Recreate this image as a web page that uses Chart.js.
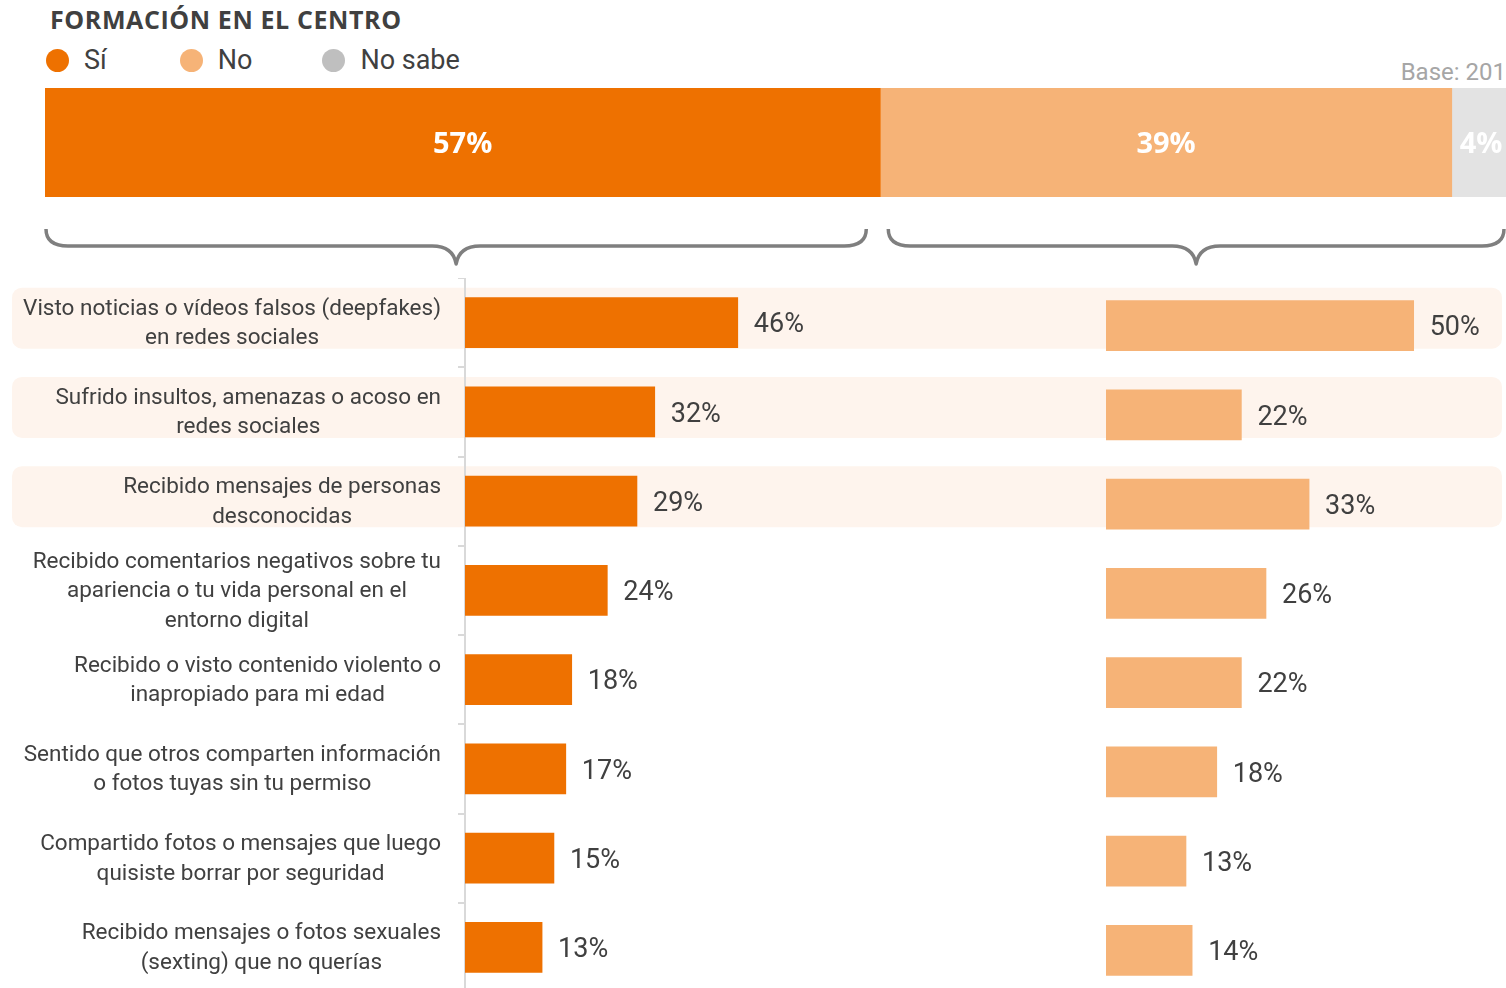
<!DOCTYPE html>
<html>
<head>
<meta charset="utf-8">
<script src="https://cdn.jsdelivr.net/npm/chart.js@4.4.1/dist/chart.umd.min.js"></script>
<style>
  html, body { margin: 0; padding: 0; background: #fff; width: 1506px; height: 988px; overflow: hidden; }
  body { position: relative; font-family: Roboto, sans-serif; color: #404040; }
  canvas { position: absolute; left: 0; }
  #title { position: absolute; left: 50px; top: 4px; font: 700 25px "Open Sans", sans-serif; letter-spacing: 0.6px; color: #404040; line-height: 30px; }
  #legend { position: absolute; left: 46px; top: 43px; font-size: 27px; line-height: 34px; display: flex; }
  #legend .item { display: flex; align-items: center; }
  #legend .dot { width: 23px; height: 23px; border-radius: 50%; margin-right: 15px; }
  #base { position: absolute; right: 0; top: 57px; font-size: 24px; color: #a6a6a6; line-height: 30px; }
</style>
</head>
<body>
<div id="title">FORMACIÓN EN EL CENTRO</div>
<div id="legend"></div>
<div id="base">Base: 201</div>
<canvas id="topChart" width="1506" height="270" style="top:0"></canvas>
<canvas id="siChart" width="1506" height="714" style="top:278px"></canvas>
<canvas id="noChart" width="1506" height="714" style="top:281px"></canvas>
<script>
// colours
const C_SI = '#EE7100';
const C_NO = '#F6B377';
const C_NS = '#E3E3E3';
const C_NS_DOT = '#BFBFBF';

// top stacked bar
const groups = ['Sí', 'No', 'No sabe'];
const groupValues = [57, 39, 4];

// rows (label lines)
const categories = [
  ['Visto noticias o vídeos falsos (deepfakes)', 'en redes sociales'],
  ['Sufrido insultos, amenazas o acoso en', 'redes sociales'],
  ['Recibido mensajes de personas', 'desconocidas'],
  ['Recibido comentarios negativos sobre tu', 'apariencia o tu vida personal en el', 'entorno digital'],
  ['Recibido o visto contenido violento o', 'inapropiado para mi edad'],
  ['Sentido que otros comparten información', 'o fotos tuyas sin tu permiso'],
  ['Compartido fotos o mensajes que luego', 'quisiste borrar por seguridad'],
  ['Recibido mensajes o fotos sexuales', '(sexting) que no querías']
];
const siValues = [46, 32, 29, 24, 18, 17, 15, 13];
const noValues = [50, 22, 33, 26, 22, 18, 13, 14];
const highlightedRows = [0, 1, 2];

// legend
const legendEl = document.getElementById('legend');
const legendGaps = [0, 73, 70];
[C_SI, C_NO, C_NS_DOT].forEach((c, i) => {
  const it = document.createElement('div');
  it.className = 'item';
  it.style.marginLeft = legendGaps[i] + 'px';
  it.innerHTML = '<span class="dot" style="background:' + c + '"></span><span>' + groups[i] + '</span>';
  legendEl.appendChild(it);
});

// top chart: labels in segments + braces underneath
const topLabels = {
  id: 'topLabels',
  afterDatasetsDraw(chart) {
    const ctx = chart.ctx;
    ctx.save();
    ctx.font = '700 29px "Open Sans"';
    ctx.fillStyle = '#fff';
    ctx.textAlign = 'center';
    ctx.textBaseline = 'middle';
    chart.data.datasets.forEach((ds, i) => {
      const bar = chart.getDatasetMeta(i).data[0];
      ctx.fillText(ds.data[0] + '%', (bar.x + bar.base) / 2, bar.y + 2);
    });
    ctx.restore();
  },
  afterDraw(chart) {
    const ctx = chart.ctx, xs = chart.scales.x;
    const brace = (x1, x2) => {
      const m = (x1 + x2) / 2, top = 229, mid = 246, tip = 264;
      ctx.beginPath();
      ctx.moveTo(x1, top);
      ctx.quadraticCurveTo(x1, mid, x1 + 22, mid);
      ctx.lineTo(m - 24, mid);
      ctx.quadraticCurveTo(m - 3, mid, m, tip);
      ctx.quadraticCurveTo(m + 3, mid, m + 24, mid);
      ctx.lineTo(x2 - 22, mid);
      ctx.quadraticCurveTo(x2, mid, x2, top);
      ctx.stroke();
    };
    ctx.save();
    ctx.strokeStyle = '#7F7F7F';
    ctx.lineWidth = 3.5;
    ctx.lineJoin = 'round';
    const split = xs.getPixelForValue(groupValues[0]);
    brace(xs.getPixelForValue(0) + 1, split - 14);
    brace(split + 8, chart.chartArea.right - 2);
    ctx.restore();
  }
};

new Chart(document.getElementById('topChart'), {
  type: 'bar',
  data: {
    labels: ['Formación'],
    datasets: groups.map((g, i) => ({
      label: g,
      data: [groupValues[i]],
      backgroundColor: [C_SI, C_NO, C_NS][i],
      borderWidth: 0,
      barPercentage: 1,
      categoryPercentage: 1
    }))
  },
  options: {
    indexAxis: 'y',
    responsive: false,
    animation: false,
    layout: { padding: { left: 45, right: 0, top: 88, bottom: 73 } },
    scales: {
      x: { stacked: true, display: false, min: 0, max: 99.7 },
      y: { stacked: true, display: false }
    },
    plugins: { legend: { display: false }, tooltip: { enabled: false } }
  },
  plugins: [topLabels]
});

// value labels to the right of the bars
const valueLabels = {
  id: 'valueLabels',
  afterDatasetsDraw(chart) {
    const ctx = chart.ctx;
    const ds = chart.data.datasets[0];
    ctx.save();
    ctx.font = '27px Roboto';
    ctx.fillStyle = '#404040';
    ctx.textAlign = 'left';
    ctx.textBaseline = 'middle';
    chart.getDatasetMeta(0).data.forEach((bar, i) => {
      ctx.fillText(ds.data[i] + '%', bar.x + 16, bar.y + 3);
    });
    ctx.restore();
  }
};

// row backgrounds + category labels for the left chart
const rowDecor = {
  id: 'rowDecor',
  beforeDraw(chart) {
    const ctx = chart.ctx, ys = chart.scales.y;
    ctx.save();
    ctx.fillStyle = '#FEF4ED';
    highlightedRows.forEach(i => {
      const cy = ys.getPixelForValue(i);
      ctx.beginPath();
      ctx.roundRect(12, cy - 35, 1490, 61, 10);
      ctx.fill();
    });
    ctx.restore();
  },
  afterDraw(chart) {
    const ctx = chart.ctx, ys = chart.scales.y;
    const right = chart.chartArea.left - 24;
    ctx.save();
    ctx.font = '22.5px Roboto';
    ctx.fillStyle = '#404040';
    ctx.textAlign = 'center';
    ctx.textBaseline = 'middle';
    categories.forEach((lines, i) => {
      const w = Math.max(...lines.map(l => ctx.measureText(l).width));
      const cx = right - w / 2;
      const cy = ys.getPixelForValue(i) + 1;
      lines.forEach((l, k) => ctx.fillText(l, cx, cy + (k - (lines.length - 1) / 2) * 29.5));
    });
    ctx.restore();
  }
};

new Chart(document.getElementById('siChart'), {
  type: 'bar',
  data: {
    labels: categories.map(c => c.join(' ')),
    datasets: [{ label: 'Sí', data: siValues, backgroundColor: C_SI, borderWidth: 0, barThickness: 50 }]
  },
  options: {
    indexAxis: 'y',
    responsive: false,
    animation: false,
    layout: { padding: { left: 0, right: 448, top: 0, bottom: 0 } },
    scales: {
      x: { display: false, min: 0, max: 100 },
      y: {
        position: 'left',
        grid: { offset: true, drawOnChartArea: false, drawTicks: true, tickLength: 7, color: '#D9D9D9', lineWidth: 2 },
        border: { display: true, color: '#D9D9D9', width: 2 },
        ticks: { display: false },
        afterFit(s) { s.width = 465; }
      }
    },
    plugins: { legend: { display: false }, tooltip: { enabled: false } }
  },
  plugins: [rowDecor, valueLabels]
});

new Chart(document.getElementById('noChart'), {
  type: 'bar',
  data: {
    labels: categories.map(c => c.join(' ')),
    datasets: [{ label: 'No', data: noValues, backgroundColor: C_NO, borderWidth: 0, barThickness: 50 }]
  },
  options: {
    indexAxis: 'y',
    responsive: false,
    animation: false,
    layout: { padding: { left: 1106, right: 0, top: 0, bottom: 0 } },
    scales: {
      x: { display: false, min: 0, max: 65 },
      y: { display: false }
    },
    plugins: { legend: { display: false }, tooltip: { enabled: false } }
  },
  plugins: [valueLabels]
});
</script>
</body>
</html>
